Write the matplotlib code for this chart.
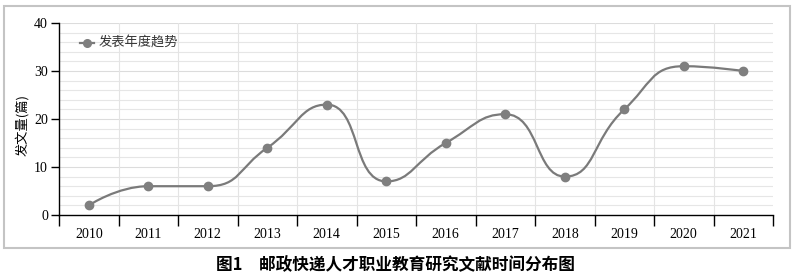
import numpy as np
import matplotlib
matplotlib.use('Agg')
import matplotlib.pyplot as plt
from matplotlib.path import Path
from matplotlib.patches import PathPatch, Rectangle

plt.rcParams['font.family'] = ['Liberation Serif', 'Noto Sans CJK SC', 'DejaVu Sans']

# 数据
years = ['2010', '2011', '2012', '2013', '2014', '2015', '2016', '2017', '2018', '2019', '2020', '2021']
counts = [2, 6, 6, 14, 23, 7, 15, 21, 8, 22, 31, 30]
series_name = '发表年度趋势'
y_label = '发文量(篇)'
caption = '图1　邮政快递人才职业教育研究文献时间分布图'
y_ticks = [0, 10, 20, 30, 40]


def smooth_path(px, py, smooth=0.5):
    # echarts 风格的平滑曲线（像素坐标）
    verts = [(px[0], py[0])]
    codes = [Path.MOVETO]
    n = len(px)
    cpx0, cpy0 = px[0], py[0]
    for i in range(1, n):
        x, y = px[i], py[i]
        if i == n - 1:
            cpx1, cpy1 = x, y
            nx0, ny0 = x, y
        else:
            prevX, prevY = px[i - 1], py[i - 1]
            nextX, nextY = px[i + 1], py[i + 1]
            vx, vy = nextX - prevX, nextY - prevY
            lp = np.hypot(x - prevX, y - prevY)
            ln = np.hypot(nextX - x, nextY - y)
            r = ln / (ln + lp)
            nx0 = x + vx * smooth * r
            ny0 = y + vy * smooth * r
            nx0 = min(nx0, max(nextX, x)); ny0 = min(ny0, max(nextY, y))
            nx0 = max(nx0, min(nextX, x)); ny0 = max(ny0, min(nextY, y))
            vx, vy = nx0 - x, ny0 - y
            cpx1 = x - vx * lp / ln
            cpy1 = y - vy * lp / ln
            cpx1 = min(cpx1, max(prevX, x)); cpy1 = min(cpy1, max(prevY, y))
            cpx1 = max(cpx1, min(prevX, x)); cpy1 = max(cpy1, min(prevY, y))
            vx, vy = x - cpx1, y - cpy1
            nx0 = x + vx * ln / lp
            ny0 = y + vy * ln / lp
        verts += [(cpx0, cpy0), (cpx1, cpy1), (x, y)]
        codes += [Path.CURVE4] * 3
        cpx0, cpy0 = nx0, ny0
    return verts, codes


fig = plt.figure(figsize=(8, 2.79), dpi=100)
ax = fig.add_axes([59 / 800, 1 - 215 / 279, 714 / 800, 192 / 279])

# 外框
fig.patches.append(Rectangle((4 / 800, 1 - 248 / 279), 786 / 800, 242 / 279,
                             transform=fig.transFigure, fill=False,
                             edgecolor='#c4c4c4', lw=1.5))

x = np.arange(len(years))
ax.set_xlim(-0.5, len(years) - 0.5)
ax.set_ylim(0, 40)

# 网格
for v in np.arange(2, 41, 2):
    ax.axhline(v, color='#e6e6e6' if v % 10 else '#dcdcdc', lw=0.8, zorder=0)
for b in np.arange(0.5, len(years) - 0.5, 1):
    ax.axvline(b, color='#e4e4e4', lw=0.8, zorder=0)

# 平滑曲线
fig.canvas.draw()
disp = ax.transData.transform(np.column_stack([x, counts]))
verts, codes = smooth_path(disp[:, 0], disp[:, 1])
data_verts = ax.transData.inverted().transform(np.array(verts))
ax.add_patch(PathPatch(Path(data_verts, codes), fill=False, edgecolor='#7a7a7a', lw=1.6, zorder=3))
ax.plot(x, counts, 'o', color='#7f7f7f', ms=6, zorder=4)

# 图例
ax.plot([-0.14, 0.08], [35.8, 35.8], color='#7a7a7a', lw=1.6, clip_on=False)
ax.plot([-0.03], [35.8], 'o', color='#7f7f7f', ms=5.5)
ax.text(0.17, 35.8, series_name, fontsize=9.5, va='center', family=['Noto Sans CJK SC'], color='#333333')

# 坐标轴
for s in ['top', 'right']:
    ax.spines[s].set_visible(False)
ax.spines['left'].set_linewidth(1.0)
ax.spines['bottom'].set_linewidth(1.0)
ax.set_yticks(y_ticks)
ax.set_yticklabels([str(t) for t in y_ticks], fontsize=10)
ax.set_xticks(np.arange(-0.5, len(years), 1))
ax.set_xticklabels([])
ax.set_xticks(x, minor=True)
ax.set_xticklabels(years, minor=True, fontsize=10)
ax.tick_params(axis='x', which='major', length=8, width=1.0, direction='out')
ax.tick_params(axis='x', which='minor', length=0, pad=9)
ax.tick_params(axis='y', length=6, width=1.0, pad=2)
ax.set_ylabel(y_label, fontsize=9.5, family=['Noto Sans CJK SC'], va='center')
ax.yaxis.set_label_coords(-0.052, 0.47)

fig.text(395 / 800, 1 - 265 / 279, caption, fontsize=12, ha='center', va='center',
         family=['Noto Sans CJK SC'], fontweight='bold')

fig.savefig('out.png', dpi=100)
